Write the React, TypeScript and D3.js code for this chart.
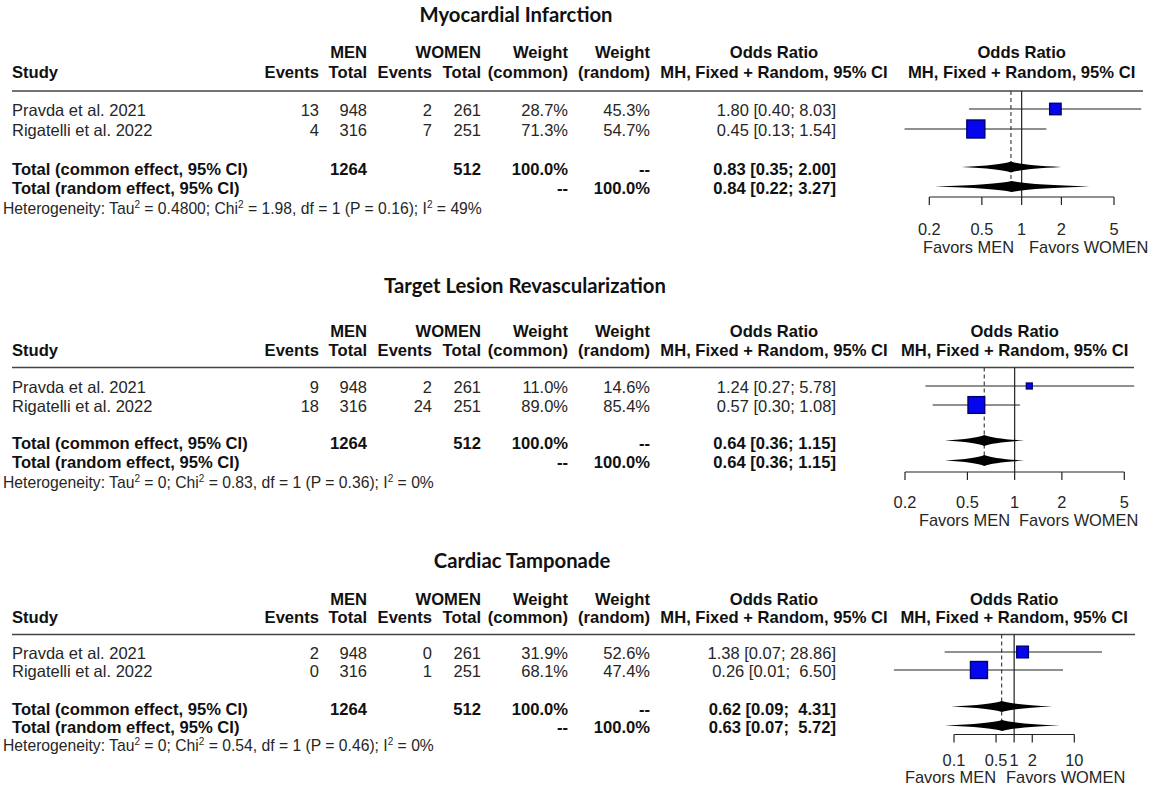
import React from "react";
import * as d3 from "d3";

// ---------- DATA ----------
const outcomes = ["Myocardial Infarction", "Target Lesion Revascularization", "Cardiac Tamponade"];
const studies = ["Pravda et al. 2021", "Rigatelli et al. 2022"];
const menTotals = [948, 316];
const womenTotals = [261, 251];
const menEvents = [[13, 4], [9, 18], [2, 0]];
const womenEvents = [[2, 7], [2, 24], [0, 1]];
const weightCommon = [[28.7, 71.3], [11.0, 89.0], [31.9, 68.1]];
const weightRandom = [[45.3, 54.7], [14.6, 85.4], [52.6, 47.4]];
const orValue = [[1.8, 0.45], [1.24, 0.57], [1.38, 0.26]];
const orLower = [[0.4, 0.13], [0.27, 0.3], [0.07, 0.01]];
const orUpper = [[8.03, 1.54], [5.78, 1.08], [28.86, 6.5]];
const commonOR = [0.83, 0.64, 0.62];
const commonLower = [0.35, 0.36, 0.09];
const commonUpper = [2.0, 1.15, 4.31];
const randomOR = [0.84, 0.64, 0.63];
const randomLower = [0.22, 0.36, 0.07];
const randomUpper = [3.27, 1.15, 5.72];
const tau2 = ["0.4800", "0", "0"];
const chi2 = ["1.98", "0.83", "0.54"];
const dfValue = ["1", "1", "1"];
const pValue = ["0.16", "0.36", "0.46"];
const i2 = ["49%", "0%", "0%"];
const axisTicks = [[0.2, 0.5, 1, 2, 5], [0.2, 0.5, 1, 2, 5], [0.1, 0.5, 1, 2, 10]];
const labelLeft = "Favors MEN";
const labelRight = "Favors WOMEN";

// ---------- LAYOUT ----------
const layouts = [
  { title: 15, titleX: 516, h1: 52, h2: 72, rule: 91, rows: [110, 130], common: 169.5, random: 188, het: 209, axis: 197, tickLab: 229, favors: 247, x0: 929.3, x1: 1114, ruleEnd: 1143, favL: 1014, favR: 1029, box: 18 },
  { title: 286, titleX: 525, h1: 331, h2: 350, rule: 367.5, rows: [387, 406], common: 443, random: 462, het: 483, axis: 472, tickLab: 502, favors: 520, x0: 905, x1: 1124.3, ruleEnd: 1134, favL: 1010, favR: 1019, box: 16.7 },
  { title: 561, titleX: 522, h1: 599, h2: 617, rule: 634.5, rows: [653, 671], common: 709, random: 727, het: 746, axis: 734.5, tickLab: 760, favors: 777, x0: 954, x1: 1074.3, ruleEnd: 1135, favL: 996, favR: 1006, box: 17 },
];

const COL = { study: 12, menEv: 319, menTot: 367, womEv: 432, womTot: 481, wCom: 568, wRan: 650, effRight: 836, effCenter: 774 };
const FONT = "'Liberation Sans', Arial, sans-serif";
const TXT = "#262626";
const PLAIN = 16.5;
const BOLD = 16.6;

const f2 = (v: number) => v.toFixed(2);

function diamondPath(lx: number, cx: number, rx: number, y: number, h: number) {
  const hh = h / 2;
  const k = 0.22, v = 0.16;
  return `M${lx},${y} Q${cx - k * (cx - lx)},${y - v * h} ${cx},${y - hh} Q${cx + k * (rx - cx)},${y - v * h} ${rx},${y} Q${cx + k * (rx - cx)},${y + v * h} ${cx},${y + hh} Q${cx - k * (cx - lx)},${y + v * h} ${lx},${y} Z`;
}

function T(props: any) {
  const { x, y, anchor = "end", bold = false, size, children, fill, family = FONT } = props;
  return (
    <text x={x} y={y} dy="0.35em" textAnchor={anchor} fontFamily={family} fontSize={size ?? (bold ? BOLD : PLAIN)}
      fontWeight={bold ? "bold" : "normal"} fill={fill ?? (bold ? "#111" : TXT)} style={{ whiteSpace: "pre" }}>
      {children}
    </text>
  );
}

function Panel({ i }: { i: number }) {
  const L = layouts[i];
  const ticks = axisTicks[i];
  const x = d3.scaleLog().domain([ticks[0], ticks[ticks.length - 1]]).range([L.x0, L.x1]);
  const size = d3.scaleSqrt().domain([0, d3.max(weightCommon[i]) as number]).range([0, L.box]);
  const upperAll = [...orUpper[i], commonUpper[i], randomUpper[i]].map(f2);
  const wUp = d3.max(upperAll, (s) => s.length) as number;
  const eff = (o: number, lo: number, hi: number) => `${f2(o)} [${f2(lo)}; ${f2(hi).padStart(wUp, " ")}]`;
  const plotCenter = (L.x0 + L.x1) / 2;
  const dh = 11;
  return (
    <g>
      <T x={L.titleX} y={L.title} anchor="middle" bold size={20.3} fill="#111" family="Lato, 'Open Sans', sans-serif">{outcomes[i]}</T>
      {/* headers */}
      <T x={COL.menTot} y={L.h1} bold>MEN</T>
      <T x={COL.womTot} y={L.h1} bold>WOMEN</T>
      <T x={COL.wCom} y={L.h1} bold>Weight</T>
      <T x={COL.wRan} y={L.h1} bold>Weight</T>
      <T x={COL.effCenter} y={L.h1} anchor="middle" bold>Odds Ratio</T>
      <T x={plotCenter} y={L.h1} anchor="middle" bold>Odds Ratio</T>
      <T x={COL.study} y={L.h2} anchor="start" bold>Study</T>
      <T x={COL.menEv} y={L.h2} bold>Events</T>
      <T x={COL.menTot} y={L.h2} bold>Total</T>
      <T x={COL.womEv} y={L.h2} bold>Events</T>
      <T x={COL.womTot} y={L.h2} bold>Total</T>
      <T x={COL.wCom} y={L.h2} bold>(common)</T>
      <T x={COL.wRan} y={L.h2} bold>(random)</T>
      <T x={COL.effCenter} y={L.h2} anchor="middle" bold>MH, Fixed + Random, 95% CI</T>
      <T x={plotCenter} y={L.h2} anchor="middle" bold>MH, Fixed + Random, 95% CI</T>
      <line x1={COL.study} x2={L.ruleEnd} y1={L.rule} y2={L.rule} stroke="#444" strokeWidth={1.6} />

      {/* reference lines */}
      <line x1={x(1)} x2={x(1)} y1={L.rule} y2={L.axis} stroke="#222" strokeWidth={1.2} />
      <line x1={x(commonOR[i])} x2={x(commonOR[i])} y1={L.rule} y2={L.random + 4} stroke="#333" strokeWidth={1.1} strokeDasharray="4,3" />

      {/* studies */}
      {studies.map((s, j) => {
        const y = L.rows[j];
        const sd = size(weightCommon[i][j]);
        return (
          <g key={s}>
            <T x={COL.study} y={y} anchor="start">{s}</T>
            <T x={COL.menEv} y={y}>{String(menEvents[i][j])}</T>
            <T x={COL.menTot} y={y}>{String(menTotals[j])}</T>
            <T x={COL.womEv} y={y}>{String(womenEvents[i][j])}</T>
            <T x={COL.womTot} y={y}>{String(womenTotals[j])}</T>
            <T x={COL.wCom} y={y}>{`${weightCommon[i][j].toFixed(1)}%`}</T>
            <T x={COL.wRan} y={y}>{`${weightRandom[i][j].toFixed(1)}%`}</T>
            <T x={COL.effRight} y={y}>{eff(orValue[i][j], orLower[i][j], orUpper[i][j])}</T>
            <line x1={x(orLower[i][j])} x2={x(orUpper[i][j])} y1={y - 1} y2={y - 1} stroke="#222" strokeWidth={1.1} />
            <rect x={x(orValue[i][j]) - sd / 2} y={y - 1 - sd / 2} width={sd} height={sd} fill="#0606ee" stroke="#000070" strokeWidth={1.4} />
          </g>
        );
      })}

      {/* totals */}
      <T x={COL.study} y={L.common} anchor="start" bold>Total (common effect, 95% CI)</T>
      <T x={COL.menTot} y={L.common} bold>{String(d3.sum(menTotals))}</T>
      <T x={COL.womTot} y={L.common} bold>{String(d3.sum(womenTotals))}</T>
      <T x={COL.wCom} y={L.common} bold>100.0%</T>
      <T x={COL.wRan} y={L.common} bold>--</T>
      <T x={COL.effRight} y={L.common} bold>{eff(commonOR[i], commonLower[i], commonUpper[i])}</T>
      <path d={diamondPath(x(commonLower[i]), x(commonOR[i]), x(commonUpper[i]), L.common - 2.5, dh)} fill="#000" />

      <T x={COL.study} y={L.random} anchor="start" bold>Total (random effect, 95% CI)</T>
      <T x={COL.wCom} y={L.random} bold>--</T>
      <T x={COL.wRan} y={L.random} bold>100.0%</T>
      <T x={COL.effRight} y={L.random} bold>{eff(randomOR[i], randomLower[i], randomUpper[i])}</T>
      <path d={diamondPath(x(randomLower[i]), x(randomOR[i]), x(randomUpper[i]), L.random - 1.5, dh)} fill="#000" />

      {/* heterogeneity */}
      <text x={3} y={L.het} dy="0.35em" fontFamily={FONT} fontSize={15.7} fill={TXT} style={{ whiteSpace: "pre" }}>
        <tspan>Heterogeneity: Tau</tspan>
        <tspan fontSize={10} dy={-6}>2</tspan>
        <tspan dy={6}>{` = ${tau2[i]}; Chi`}</tspan>
        <tspan fontSize={10} dy={-6}>2</tspan>
        <tspan dy={6}>{` = ${chi2[i]}, df = ${dfValue[i]} (P = ${pValue[i]}); I`}</tspan>
        <tspan fontSize={10} dy={-6}>2</tspan>
        <tspan dy={6}>{` = ${i2[i]}`}</tspan>
      </text>

      {/* axis */}
      <line x1={x(ticks[0])} x2={x(ticks[ticks.length - 1])} y1={L.axis} y2={L.axis} stroke="#222" strokeWidth={1.2} />
      {ticks.map((t) => (
        <g key={t}>
          <line x1={x(t)} x2={x(t)} y1={L.axis} y2={L.axis + 8} stroke="#222" strokeWidth={1.2} />
          <T x={x(t)} y={L.tickLab} anchor="middle" size={16.4}>{String(t)}</T>
        </g>
      ))}
      <T x={L.favL} y={L.favors} anchor="end" size={16.4}>{labelLeft}</T>
      <T x={L.favR} y={L.favors} anchor="start" size={16.4}>{labelRight}</T>
    </g>
  );
}

export default function App() {
  return (
    <svg width={1156} height={794} style={{ position: "absolute", left: 0, top: 0, background: "#fff" }}>
      <rect width={1156} height={794} fill="#fff" />
      {outcomes.map((_, i) => <Panel key={i} i={i} />)}
    </svg>
  );
}
